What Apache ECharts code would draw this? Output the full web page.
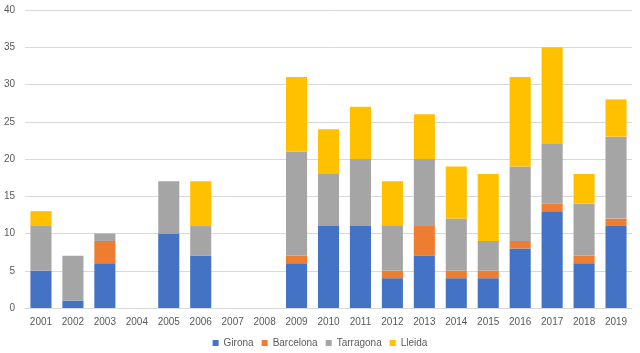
<!DOCTYPE html>
<html>
<head>
<meta charset="utf-8">
<script src="https://cdn.jsdelivr.net/npm/echarts@6/dist/echarts.min.js"></script>
<style>
  html, body { margin: 0; padding: 0; background: #fff; }
  #chart { width: 640px; height: 353px; }
</style>
</head>
<body>
<div id="chart"></div>
<script>
var years = ['2001', '2002', '2003', '2004', '2005', '2006', '2007', '2008', '2009', '2010',
             '2011', '2012', '2013', '2014', '2015', '2016', '2017', '2018', '2019'];
var girona    = [5, 1, 6, 0, 10, 7, 0, 0, 6, 11, 11, 4, 7, 4, 4, 8, 13, 6, 11];
var barcelona = [0, 0, 3, 0, 0, 0, 0, 0, 1, 0, 0, 1, 4, 1, 1, 1, 1, 1, 1];
var tarragona = [6, 6, 1, 0, 7, 4, 0, 0, 14, 7, 9, 6, 9, 7, 4, 10, 8, 7, 11];
var lleida    = [2, 0, 0, 0, 0, 6, 0, 0, 10, 6, 7, 6, 6, 7, 9, 12, 13, 4, 5];

var chart = echarts.init(document.getElementById('chart'));

function bar(name, data) {
    return { name: name, type: 'bar', stack: 'total', barWidth: '66%', data: data };
}

chart.setOption({
    animation: false,
    color: ['#4472C4', '#ED7D31', '#A5A5A5', '#FFC000'],
    textStyle: { fontFamily: 'Liberation Sans, Arial, sans-serif' },
    legend: {
        bottom: 0,
        left: 'center',
        icon: 'rect',
        itemWidth: 6,
        itemHeight: 6,
        itemGap: 8,
        textStyle: { color: '#595959', fontSize: 10 },
        data: ['Girona', 'Barcelona', 'Tarragona', 'Lleida']
    },
    grid: { left: 25, right: 8, top: 10, bottom: 45 },
    xAxis: {
        type: 'category',
        data: years,
        axisLine: { lineStyle: { color: '#D9D9D9' } },
        axisTick: { show: false },
        axisLabel: { color: '#595959', fontSize: 10, margin: 9 }
    },
    yAxis: {
        type: 'value',
        min: 0,
        max: 40,
        interval: 5,
        axisLine: { show: false },
        axisTick: { show: false },
        axisLabel: { color: '#595959', fontSize: 10, margin: 10 },
        splitLine: { lineStyle: { color: '#D9D9D9' } }
    },
    series: [
        bar('Girona', girona),
        bar('Barcelona', barcelona),
        bar('Tarragona', tarragona),
        bar('Lleida', lleida)
    ]
});
</script>
</body>
</html>
